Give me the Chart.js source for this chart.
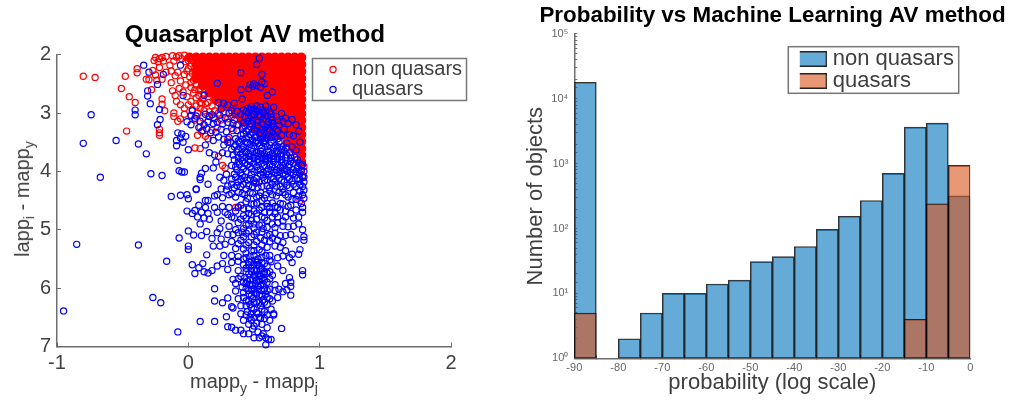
<!DOCTYPE html>
<html>
<head>
<meta charset="utf-8">
<script src="https://cdn.jsdelivr.net/npm/chart.js@4"></script>
<style>
html, body { margin: 0; background: #fff; overflow: hidden; width: 1011px; height: 403px; }
canvas { position: absolute; top: 0; filter: blur(.35px); }
#scatterChart { left: 0; }
#histChart { left: 520px; }
.axisLabel { position: absolute; font: 20px/24px "Liberation Sans"; color: #404040; white-space: nowrap; }
.axisLabel sub { font-size: 14px; line-height: 0; }
#scatterX { left: 57px; width: 394px; top: 369px; text-align: center; }
#scatterY { left: 22px; top: 199px; transform: translate(-50%, -50%) rotate(-90deg); }
</style>
</head>
<body>
<canvas id="scatterChart" width="510" height="403"></canvas>
<canvas id="histChart" width="505" height="403"></canvas>
<div class="axisLabel" id="scatterX">mapp<sub>y</sub> - mapp<sub>j</sub></div>
<div class="axisLabel" id="scatterY">lapp<sub>i</sub> - mapp<sub>y</sub></div>
<script>
// histogram values, one per 5-wide bin
const binCentres = [-87.5,-82.5,-77.5,-72.5,-67.5,-62.5,-57.5,-52.5,-47.5,-42.5,-37.5,-32.5,-27.5,-22.5,-17.5,-12.5,-7.5,-2.5];
const nonQuasarCounts = [18000,null,2,5,10,10,14,16,31,37,53,97,155,271,708,3670,4235,320];
const quasarCounts = [5,null,null,null,null,null,null,null,null,null,null,null,null,null,null,4,241,940];
const logTickLabels = ['10⁰','10¹','10²','10³','10⁴','10⁵'];

// saturated red block of the scatter
const nonQuasarCore = [
[.01,2.05],[.06,2.05],[.11,2.05],[.16,2.05],[.21,2.05],[.26,2.05],[.31,2.05],[.36,2.05],[.41,2.05],[.46,2.05],[.51,2.05],[.56,2.05],[.61,2.05],[.66,2.05],[.71,2.05],[.76,2.05],[.81,2.05],[.86,2.05],
[.06,2.17],[.11,2.17],[.16,2.17],[.21,2.17],[.26,2.17],[.31,2.17],[.36,2.17],[.41,2.17],[.46,2.17],[.51,2.17],[.56,2.17],[.61,2.17],[.66,2.17],[.71,2.17],[.76,2.17],[.81,2.17],[.86,2.17],
[.06,2.29],[.11,2.29],[.16,2.29],[.21,2.29],[.26,2.29],[.31,2.29],[.36,2.29],[.41,2.29],[.46,2.29],[.51,2.29],[.56,2.29],[.61,2.29],[.66,2.29],[.71,2.29],[.76,2.29],[.81,2.29],[.86,2.29],
[.06,2.41],[.11,2.41],[.16,2.41],[.21,2.41],[.26,2.41],[.31,2.41],[.36,2.41],[.41,2.41],[.46,2.41],[.51,2.41],[.56,2.41],[.61,2.41],[.66,2.41],[.71,2.41],[.76,2.41],[.81,2.41],[.86,2.41],
[.11,2.53],[.16,2.53],[.21,2.53],[.26,2.53],[.31,2.53],[.36,2.53],[.41,2.53],[.46,2.53],[.51,2.53],[.56,2.53],[.61,2.53],[.66,2.53],[.71,2.53],[.76,2.53],[.81,2.53],[.86,2.53],
[.16,2.65],[.21,2.65],[.26,2.65],[.31,2.65],[.36,2.65],[.41,2.65],[.46,2.65],[.51,2.65],[.56,2.65],[.61,2.65],[.66,2.65],[.71,2.65],[.76,2.65],[.81,2.65],[.86,2.65],
[.21,2.77],[.26,2.77],[.31,2.77],[.36,2.77],[.41,2.77],[.46,2.77],[.51,2.77],[.56,2.77],[.61,2.77],[.66,2.77],[.71,2.77],[.76,2.77],[.81,2.77],[.86,2.77],
[.26,2.89],[.31,2.89],[.36,2.89],[.41,2.89],[.46,2.89],[.51,2.89],[.56,2.89],[.61,2.89],[.66,2.89],[.71,2.89],[.76,2.89],[.81,2.89],[.86,2.89],
[.36,3.01],[.41,3.01],[.46,3.01],[.51,3.01],[.56,3.01],[.61,3.01],[.66,3.01],[.71,3.01],[.76,3.01],[.81,3.01],[.86,3.01],
[.41,3.13],[.46,3.13],[.51,3.13],[.56,3.13],[.61,3.13],[.66,3.13],[.71,3.13],[.76,3.13],[.81,3.13],[.86,3.13],
[.51,3.25],[.56,3.25],[.61,3.25],[.66,3.25],[.71,3.25],[.76,3.25],[.81,3.25],[.86,3.25],
[.56,3.37],[.61,3.37],[.66,3.37],[.71,3.37],[.76,3.37],[.81,3.37],[.86,3.37],
[.76,3.49],[.81,3.49],[.86,3.49],[.81,3.61],[.86,3.61],[.86,3.72],[.86,3.84]
];
// single red rings around the block
const nonQuasarRings = [
[-.80,2.37],[-.71,2.39],[-.48,2.37],[-.51,2.58],[-.45,2.72],[-.405,2.82],[-.39,2.24],[-.39,2.31],[-.47,3.31],[-.32,2.42],[-.30,2.43],[-.28,2.60],[-.22,3.28],[-.22,3.34],[-.22,3.38],[-.20,2.76],[-.20,2.85],[-.18,2.96],
[-.26,2.10],[-.25,2.05],[-.23,2.12],[-.22,2.07],[-.20,2.05],[-.19,2.11],[-.17,2.03],[-.14,2.18],[-.12,2.02],[-.11,2.11],[-.09,2.04],[-.07,2.02],[-.05,2.07],[-.03,2.01],[-.02,2.12],
[-.27,2.27],[-.25,2.35],[-.22,2.22],[-.24,2.44],[-.20,2.42],[-.17,2.30],[-.13,2.28],[-.13,2.48],[-.10,2.36],[-.08,2.30],[-.06,2.45],[-.03,2.34],[-.01,2.28],[-.02,2.52],[-.12,2.62],[-.10,2.70],[-.07,2.58],[-.04,2.64],[-.01,2.72],
[.02,2.56],[.04,2.66],[.08,2.62],[.11,2.76],[.13,2.84],[.02,2.80],[.06,2.88],[.09,2.92],[-.09,2.80],[-.06,2.86],[-.03,2.92],[.00,2.86],[.03,2.94],
[-.11,3.00],[-.11,3.06],[-.06,3.10],[-.03,3.02],[.02,3.05],[.05,3.12],[-.08,3.14],[.09,3.24],[.10,3.32],[.07,3.38],[.13,3.40],[.05,3.60],[.09,3.61],[.15,3.44],[.18,3.30],[.22,3.25],[.23,3.74],[.26,3.90],[.28,3.94],[.36,4.62],[.38,4.61],[.34,3.30],[.30,3.45],
[.86,4.00],[.88,3.92],[.85,4.50],[.87,4.07],[.55,3.70],[.60,3.80],[.72,3.90],[.52,4.20],[.68,3.75],
// denser rings along the block's left edge
[.00,2.10],[.02,2.20],[.00,2.24],[.03,2.32],[.01,2.38],[.04,2.44],[.02,2.48],[.06,2.52],[.05,2.60],[.09,2.58],[.08,2.70],[.12,2.68],[.10,2.84],[.15,2.72],[.15,2.82],[.18,2.88],[.20,2.96],[.23,3.00],[.27,3.00],[.12,2.96],[.16,2.98],[.19,3.08],[.25,3.12],[.30,3.10],[.33,3.06],[.37,3.20],[.42,3.24],[.46,3.30],[.52,3.42],[.70,3.48],[.74,3.60],[.78,3.72],[.82,3.80],[.06,2.74],[.09,2.82],[.07,3.00],[.11,3.08]
];
const quasarPoints = [
// sparse outliers
[-.34,2.18],[-.30,2.30],[-.19,2.34],[-.235,2.51],[-.31,2.62],[-.31,2.71],[-.29,2.84],[-.405,2.95],[-.405,3.03],[-.74,3.03],[-.22,2.94],[-.215,3.11],[-.235,3.20],[-.80,3.52],[-.55,3.47],[-.38,3.53],[-.32,3.70],[-.67,4.10],[-.285,4.04],[-.20,4.07],[-.08,3.81],[-.07,3.99],[-.05,4.01],[-.03,4.01],[-.13,4.43],[-.06,4.41],[-.01,4.40],[0,4.47],[-.01,4.68],[-.85,5.25],[-.38,5.26],[0,5.02],[-.07,5.14],[0,5.28],[0,5.34],[-.165,5.54],[.03,5.60],[.05,5.75],[-.27,6.16],[-.21,6.25],[-.95,6.39],[-.08,6.75],[.09,6.57],[.20,6.57],[.20,6.01],[.20,6.22],[.26,6.25],[.29,6.49],[.30,6.66],[.33,6.67],[.71,6.69],[.59,6.97],
// y 2 to 3
[.54,2.06],[.52,2.17],[.56,2.34],[.40,2.31],[.22,2.49],[-.06,2.18],[-.04,2.70],[.12,2.70],[.40,2.60],[.46,2.58],[.49,2.54],[.47,2.51],[.50,2.50],[.52,2.53],[.55,2.56],[.56,2.47],[.58,2.50],[.60,2.70],[.64,2.64],[.41,2.76],[.23,2.82],[.27,2.83],[.30,2.86],[.35,2.83],[.45,2.92],[.48,2.89],[.52,2.88],[.55,2.90],[.59,2.88],[.65,2.90],[.33,2.96],[.25,2.93],[.37,2.97],[.42,2.95],
// y 3 to 3.5
[.03,2.96],[.02,3.04],[.05,3.09],[.09,3.14],[.13,3.02],[.16,3.06],[.18,3.03],[.20,3.10],[.24,3.04],[.28,3.08],[.31,3.00],[.35,3.12],[.40,3.02],[.43,3.06],[.46,3.00],[.48,3.05],[.51,2.98],[.54,3.03],[.57,2.99],[.60,3.05],[.63,3.02],[.67,3.06],[.71,3.01],[.74,3.09],[.79,3.11],[.82,3.20],[.76,3.18],[.72,3.15],[.68,3.13],[.64,3.12],[.61,3.15],[.57,3.10],[.53,3.13],[.49,3.12],[.45,3.14],[.42,3.17],[.38,3.20],[.34,3.18],[.30,3.16],[.26,3.19],[.22,3.16],[.19,3.18],[.15,3.15],[.12,3.20],[.08,3.25],[.11,3.30],[.14,3.27],[.17,3.34],[.21,3.33],[.25,3.28],[.29,3.32],[.33,3.26],[.37,3.30],[.41,3.26],[.44,3.31],[.47,3.23],[.50,3.28],[.53,3.22],[.56,3.29],[.59,3.24],[.62,3.30],[.65,3.24],[.68,3.31],[.73,3.28],[.77,3.37],[.84,3.31],[.80,3.39],[.71,3.38],[.66,3.40],[.61,3.37],[.57,3.42],[.54,3.36],[.51,3.41],[.47,3.37],[.44,3.43],[.40,3.38],[.36,3.44],[.31,3.42],[.27,3.45],[.23,3.41],[.19,3.47],
[-.08,3.34],[-.05,3.36],[-.06,3.43],[-.09,3.47],[-.04,3.50],[-.02,3.40],[-.09,3.56],[0,3.63],[.06,3.05],[.02,3.20],[-.01,3.15],
// y 3.5 to 4
[.13,3.55],[.16,3.68],[.20,3.72],[.21,3.84],[.19,3.94],[.13,3.95],[.27,3.55],[.30,3.50],[.33,3.62],[.36,3.55],[.39,3.50],[.42,3.58],[.45,3.52],[.48,3.60],[.51,3.50],[.54,3.56],[.57,3.50],[.60,3.58],[.63,3.50],[.66,3.56],[.69,3.50],[.72,3.58],[.75,3.52],[.79,3.58],[.85,3.50],[.82,3.64],[.77,3.68],[.73,3.65],[.70,3.70],[.67,3.65],[.64,3.69],[.61,3.66],[.58,3.70],[.55,3.65],[.52,3.68],[.49,3.66],[.46,3.70],[.43,3.65],[.40,3.70],[.37,3.67],[.34,3.72],[.30,3.70],[.26,3.68],[.35,3.80],[.38,3.76],[.41,3.82],[.44,3.76],[.47,3.83],[.50,3.78],[.53,3.84],[.56,3.78],[.59,3.83],[.62,3.77],[.65,3.84],[.68,3.79],[.71,3.85],[.74,3.77],[.78,3.83],[.81,3.76],[.84,3.86],[.87,3.88],[.33,3.90],[.36,3.92],[.39,3.88],[.42,3.95],[.45,3.89],[.48,3.96],[.52,3.92],[.55,3.97],[.58,3.90],[.61,3.96],[.64,3.91],[.67,3.97],[.70,3.93],[.73,3.97],[.76,3.92],[.80,3.97],[.83,3.93],[.86,3.98],
// y 4 to 4.5
[.10,4.03],[.09,4.10],[.09,4.14],[.15,4.22],[.06,4.30],[.06,4.31],[.24,4.10],[.27,4.15],[.29,4.05],[.33,4.13],[.35,4.05],[.38,4.18],[.41,4.07],[.45,4.15],[.48,4.05],[.52,4.12],[.55,4.05],[.58,4.15],[.61,4.05],[.65,4.13],[.68,4.06],[.71,4.15],[.74,4.05],[.77,4.13],[.80,4.04],[.83,4.12],[.87,4.10],[.88,4.18],[.85,4.22],[.80,4.22],[.75,4.24],[.70,4.26],[.64,4.22],[.60,4.25],[.53,4.28],[.49,4.26],[.44,4.30],[.40,4.26],[.35,4.28],[.30,4.25],[.25,4.30],[.22,4.40],[.20,4.42],[.13,4.50],[.15,4.50],[.26,4.45],[.31,4.40],[.36,4.44],[.41,4.38],[.45,4.46],[.49,4.38],[.52,4.44],[.55,4.36],[.59,4.40],[.62,4.34],[.67,4.42],[.72,4.36],[.76,4.44],[.80,4.36],[.85,4.34],[.87,4.40],[.88,4.46],[.82,4.48],
// y 4.5 to 5
[.08,4.58],[.05,4.67],[.03,4.72],[.07,4.78],[.10,4.70],[.13,4.62],[.15,4.72],[.12,4.80],[.09,4.90],[.16,4.82],[.20,4.62],[.22,4.70],[.26,4.60],[.28,4.70],[.31,4.62],[.33,4.78],[.25,4.85],[.36,4.68],[.38,4.88],[.40,4.58],[.42,4.76],[.44,4.92],[.46,4.64],[.48,4.84],[.50,4.56],[.52,4.72],[.54,4.92],[.56,4.62],[.58,4.80],[.60,4.55],[.62,4.70],[.64,4.90],[.66,4.60],[.68,4.78],[.70,4.55],[.72,4.85],[.74,4.68],[.76,4.95],[.78,4.58],[.80,4.80],[.82,4.66],[.84,4.90],[.87,4.62],[.87,4.70],[.86,4.55],[.42,4.98],[.50,4.97],[.57,4.98],[.66,4.96],[.31,4.94],[.24,4.98],
// y 5 to 5.5
[.04,5.09],[.10,5.10],[.14,5.03],[.18,5.15],[.22,5.05],[.25,5.16],[.28,5.25],[.19,5.28],[.24,5.28],[.30,5.08],[.33,5.20],[.36,5.32],[.38,5.05],[.40,5.18],[.42,5.33],[.44,5.06],[.46,5.22],[.48,5.36],[.50,5.08],[.52,5.20],[.54,5.34],[.56,5.04],[.58,5.18],[.60,5.30],[.62,5.08],[.64,5.14],[.66,5.28],[.70,5.10],[.72,5.22],[.74,5.36],[.78,5.08],[.82,5.16],[.87,5.00],[.88,5.12],[.88,5.18],[.85,5.34],[.84,5.42],[.79,5.42],[.77,5.48],[.72,5.45],[.33,5.44],[.27,5.44],[.14,5.43],[.38,5.46],[.44,5.48],[.50,5.44],[.56,5.47],[.62,5.44],[.68,5.48],
// y 5.5 to 6
[.08,5.65],[.11,5.58],[.12,5.72],[.15,5.74],[.18,5.70],[.22,5.62],[.26,5.58],[.30,5.68],[.33,5.56],[.38,5.70],[.34,5.85],[.36,5.92],[.40,5.80],[.42,5.60],[.44,5.72],[.46,5.55],[.47,5.85],[.48,5.66],[.49,5.95],[.50,5.60],[.50,5.78],[.51,5.52],[.52,5.70],[.52,5.88],[.53,5.60],[.54,5.78],[.55,5.68],[.55,5.96],[.56,5.56],[.56,5.84],[.58,5.72],[.60,5.62],[.60,5.90],[.63,5.55],[.64,5.78],[.66,5.94],[.68,5.62],[.72,5.70],[.74,5.92],[.77,5.82],[.78,5.90],[.78,5.97],[.87,5.70],[.87,5.77],[.79,5.56],[.44,5.92],[.41,5.98],[.38,5.54],
// y 6 to 6.5
[.30,6.17],[.33,6.32],[.34,6.34],[.36,6.05],[.38,6.18],[.40,6.30],[.42,6.08],[.44,6.22],[.45,6.40],[.46,6.10],[.47,6.28],[.48,6.02],[.49,6.18],[.50,6.36],[.51,6.08],[.52,6.24],[.53,6.44],[.54,6.12],[.55,6.30],[.56,6.04],[.57,6.20],[.58,6.40],[.59,6.10],[.60,6.28],[.62,6.18],[.63,6.36],[.65,6.44],[.66,6.04],[.69,6.02],[.72,6.06],[.75,6.03],[.78,6.12],[.40,6.44],[.44,6.46],
// y 6.5 to 7
[.42,6.55],[.36,6.72],[.40,6.72],[.42,6.78],[.46,6.62],[.46,6.78],[.48,6.55],[.49,6.70],[.50,6.50],[.50,6.85],[.52,6.60],[.53,6.75],[.54,6.50],[.54,6.85],[.56,6.62],[.57,6.78],[.58,6.52],[.59,6.85],[.60,6.68],[.61,6.88],[.62,6.55],[.63,6.88],[.65,6.46],[.50,6.65],[.56,6.82],
// thick knots around (.55, 3.3), (.6, 4) and the (.5, 5.8) column
[.44,2.98],[.47,2.94],[.50,2.93],[.53,2.96],[.56,2.95],[.59,2.96],[.62,2.98],[.46,3.08],[.50,3.02],[.55,3.06],[.59,3.10],[.63,3.07],[.48,3.18],[.52,3.16],[.56,3.19],[.60,3.20],[.64,3.18],[.69,3.20],[.43,3.22],[.46,3.28],[.49,3.33],[.52,3.30],[.55,3.34],[.58,3.32],[.61,3.27],[.64,3.33],[.67,3.28],[.42,3.36],[.46,3.42],[.49,3.46],[.52,3.48],[.55,3.44],[.58,3.47],[.60,3.43],[.63,3.42],[.68,3.44],[.38,3.48],[.41,3.45],[.44,3.50],[.47,3.54],[.50,3.56],[.53,3.52],[.56,3.60],[.59,3.53],[.62,3.55],[.65,3.60],[.68,3.58],[.71,3.62],[.75,3.60],[.32,3.50],[.35,3.58],[.38,3.62],[.41,3.62],[.44,3.68],[.47,3.74],[.50,3.72],[.53,3.74],[.56,3.72],[.59,3.75],[.62,3.72],[.65,3.74],[.68,3.70],[.71,3.74],[.75,3.72],[.78,3.76],[.38,3.84],[.41,3.76],[.43,3.86],[.46,3.80],[.50,3.86],[.53,3.80],[.56,3.86],[.59,3.78],[.62,3.88],[.65,3.78],[.68,3.88],[.71,3.80],[.74,3.86],[.77,3.88],[.80,3.86],[.83,3.80],[.86,3.90],[.37,3.97],[.40,4.02],[.44,4.00],[.47,3.92],[.50,4.00],[.53,3.98],[.57,4.02],[.60,4.00],[.63,3.98],[.66,4.02],[.69,4.00],[.72,4.03],[.75,3.99],[.78,4.02],[.82,4.00],[.85,4.04],[.88,4.00],
[.36,4.10],[.40,4.14],[.43,4.10],[.47,4.12],[.50,4.16],[.54,4.18],[.57,4.10],[.60,4.14],[.63,4.10],[.66,4.18],[.69,4.12],[.73,4.18],[.76,4.10],[.79,4.16],[.82,4.06],[.85,4.14],[.88,4.10],[.33,4.22],[.37,4.24],[.42,4.22],[.46,4.24],[.51,4.20],[.56,4.26],[.62,4.28],[.67,4.25],[.72,4.30],[.77,4.28],[.82,4.26],[.87,4.26],[.88,4.32],[.29,4.32],[.33,4.38],[.38,4.36],[.43,4.40],[.47,4.36],[.54,4.42],[.58,4.46],[.64,4.40],[.69,4.36],[.74,4.40],[.79,4.48],[.84,4.42],
[.44,4.52],[.48,4.56],[.52,4.54],[.56,4.50],[.60,4.60],[.64,4.54],[.68,4.62],[.72,4.56],[.76,4.60],[.38,4.62],[.42,4.64],[.46,4.72],[.50,4.68],[.54,4.66],[.58,4.70],[.62,4.62],[.66,4.72],[.70,4.66],[.74,4.78],[.78,4.72],[.30,4.74],[.35,4.80],[.40,4.82],[.44,4.80],[.48,4.74],[.52,4.82],[.56,4.78],[.60,4.84],[.64,4.78],[.68,4.88],[.72,4.94],[.80,4.94],[.84,4.78],[.46,4.90],[.50,4.90],[.56,4.92],[.60,4.96],[.36,5.00],[.34,5.08],[.41,5.04],[.46,5.02],[.48,5.12],[.52,5.04],[.55,5.14],[.60,5.10],[.66,5.06],[.68,5.18],[.74,5.10],[.42,5.12],[.38,5.24],[.44,5.26],[.50,5.26],[.56,5.26],[.62,5.20],[.70,5.30],
[.44,5.40],[.47,5.46],[.50,5.36],[.53,5.50],[.56,5.38],[.59,5.44],[.62,5.52],[.42,5.50],[.46,5.60],[.48,5.54],[.50,5.70],[.52,5.56],[.54,5.62],[.56,5.66],[.58,5.58],[.60,5.74],[.44,5.66],[.46,5.76],[.48,5.72],[.51,5.82],[.53,5.76],[.55,5.80],[.57,5.76],[.58,5.86],[.62,5.72],[.43,5.82],[.45,5.88],[.47,5.94],[.49,5.86],[.51,5.92],[.53,5.96],[.54,5.88],[.57,5.92],[.62,5.84],[.38,5.84],[.42,5.90],[.44,6.00],[.46,6.04],[.48,6.12],[.50,6.02],[.52,6.10],[.53,6.02],[.56,6.12],[.58,6.02],[.60,6.04],[.62,6.02],[.42,6.16],[.44,6.30],[.46,6.22],[.48,6.34],[.50,6.24],[.54,6.24],[.56,6.36],[.58,6.24],[.60,6.16],[.64,6.22],[.68,6.16],[.52,6.42],[.48,6.44],[.55,6.52],[.60,6.46],[.47,6.50]
];

const inkColor = '#404040';
const axisColor = '#6e6e6e';
const blueFill = 'rgba(0,114,189,.6)';
const orangeFill = 'rgba(217,83,25,.6)';
const edgeColor = 'rgba(0,0,0,.8)';

Chart.defaults.font.family = '"Liberation Sans"';
Chart.defaults.color = inkColor;

// moves the legend to a fixed spot, centres the title on the canvas, draws the grey legend frame
function legendAt(x, y, frame) {
    return {
        id: 'legendAt',
        afterLayout(chart) {
            let legend = chart.legend;
            legend.right = x + legend.width;
            legend.bottom = y + legend.height;
            legend.left = x;
            legend.top = y;
            chart.titleBlock.left = 0;
            chart.titleBlock.right = chart.width;
        },
        afterDraw(chart) {
            let ctx = chart.ctx;
            ctx.save();
            ctx.strokeStyle = '#777';
            ctx.lineWidth = 1.5;
            ctx.strokeRect(frame[0], frame[1], frame[2], frame[3]);
            ctx.restore();
        }
    };
}

function legendSwatch(fill) {
    let c = document.createElement('canvas');
    c.width = 33;
    c.height = 16;
    let ctx = c.getContext('2d');
    ctx.fillStyle = fill;
    ctx.fillRect(0, 0, 33, 16);
    ctx.strokeStyle = '#222';
    ctx.lineWidth = 1.5;
    ctx.strokeRect(.75, .75, 31.5, 14.5);
    return c;
}

new Chart(document.getElementById('scatterChart'), {
    type: 'scatter',
    data: {
        datasets: [
            { label: 'non quasars', data: nonQuasarRings, order: 2, clip: false, borderColor: '#ff0000', backgroundColor: 'transparent', pointRadius: 3.1, pointBorderWidth: 1.2 },
            { label: 'quasars', data: quasarPoints, order: 1, clip: false, borderColor: '#0000ff', backgroundColor: 'transparent', pointRadius: 3.1, pointBorderWidth: 1.2 },
            { label: 'non quasars', data: nonQuasarCore, order: 3, clip: false, borderColor: '#ff0000', backgroundColor: '#ff0000', pointRadius: 5, pointBorderWidth: 0 }
        ]
    },
    options: {
        responsive: false,
        animation: false,
        devicePixelRatio: 1,
        layout: { padding: { right: 59 } },
        plugins: {
            title: { display: true, text: 'Quasarplot AV method', color: '#000', font: { size: 24.2, weight: 'bold' }, padding: { top: 20.6, bottom: 5 } },
            legend: {
                position: 'chartArea',
                align: 'start',
                labels: { usePointStyle: true, pointStyle: 'circle', boxWidth: 18, boxHeight: 4.4, padding: 0, color: inkColor, font: { size: 20 }, filter: item => item.datasetIndex < 2, sort: (a, b) => a.datasetIndex - b.datasetIndex }
            },
            tooltip: { enabled: false }
        },
        scales: {
            x: {
                type: 'linear', min: -1, max: 2,
                border: { color: axisColor, width: 1.5 },
                grid: { drawOnChartArea: false, tickLength: -4, tickColor: axisColor },
                ticks: { stepSize: 1, padding: 9, color: inkColor, font: { size: 20 } },
                afterFit(scale) { scale.height = 56.5; }
            },
            y: {
                type: 'linear', min: 2, max: 7, reverse: true,
                border: { color: axisColor, width: 1.5 },
                grid: { drawOnChartArea: false, tickLength: -4, tickColor: axisColor },
                ticks: { stepSize: 1, padding: 10, color: inkColor, font: { size: 20 } },
                afterFit(scale) { scale.width = 57; }
            }
        }
    },
    plugins: [legendAt(324, 59.5, [312.5, 58.5, 154, 42])]
});

new Chart(document.getElementById('histChart'), {
    type: 'bar',
    data: {
        datasets: [
            {
                label: 'non quasars',
                data: binCentres.map((x, i) => ({ x: x, y: nonQuasarCounts[i] })),
                order: 2, grouped: false, barPercentage: 1, categoryPercentage: 1,
                backgroundColor: blueFill, borderColor: edgeColor, borderWidth: 1, borderSkipped: false,
                pointStyle: legendSwatch(blueFill)
            },
            {
                label: 'quasars',
                data: binCentres.map((x, i) => ({ x: x, y: quasarCounts[i] })),
                order: 1, grouped: false, barPercentage: 1, categoryPercentage: 1,
                backgroundColor: orangeFill, borderColor: edgeColor, borderWidth: 1, borderSkipped: false,
                pointStyle: legendSwatch(orangeFill)
            }
        ]
    },
    options: {
        responsive: false,
        animation: false,
        devicePixelRatio: 1,
        layout: { padding: { right: 54.7 } },
        plugins: {
            title: { display: true, text: 'Probability vs Machine Learning AV method', color: '#000', font: { size: 22.4, weight: 'bold' }, padding: { top: 2.6, bottom: 4.5 } },
            legend: {
                position: 'chartArea',
                align: 'start',
                labels: { usePointStyle: true, boxWidth: 22, boxHeight: 15, padding: 0, color: inkColor, font: { size: 22 }, sort: (a, b) => a.datasetIndex - b.datasetIndex }
            },
            tooltip: { enabled: false }
        },
        scales: {
            x: {
                type: 'linear', min: -90, max: 0, offset: false,
                border: { color: axisColor, width: 1.5 },
                grid: { drawOnChartArea: false, tickLength: -3, tickColor: axisColor },
                ticks: { stepSize: 10, padding: 6, color: '#666', font: { size: 11 }, maxRotation: 0 },
                title: { display: true, text: 'probability (log scale)', color: inkColor, font: { size: 22 }, padding: { top: 7, bottom: 7 } },
                afterFit(scale) { scale.height = 44.7; }
            },
            y: {
                type: 'logarithmic', min: 1, max: 100000,
                border: { color: axisColor, width: 1.5 },
                grid: { drawOnChartArea: false, tickLength: -3, tickColor: axisColor },
                ticks: {
                    autoSkip: false, padding: 9, color: '#666', font: { size: 11 },
                    callback: function (value) {
                        let exp = Math.log10(value);
                        return Number.isInteger(exp) ? logTickLabels[exp] : '';
                    }
                },
                title: { display: true, text: 'Number of objects', color: inkColor, font: { size: 22 }, padding: { top: 3, bottom: 3 } },
                afterFit(scale) { scale.width = 54.3; }
            }
        }
    },
    plugins: [legendAt(279.8, 48, [268.3, 46.7, 170.4, 46.6])]
});
</script>
</body>
</html>
